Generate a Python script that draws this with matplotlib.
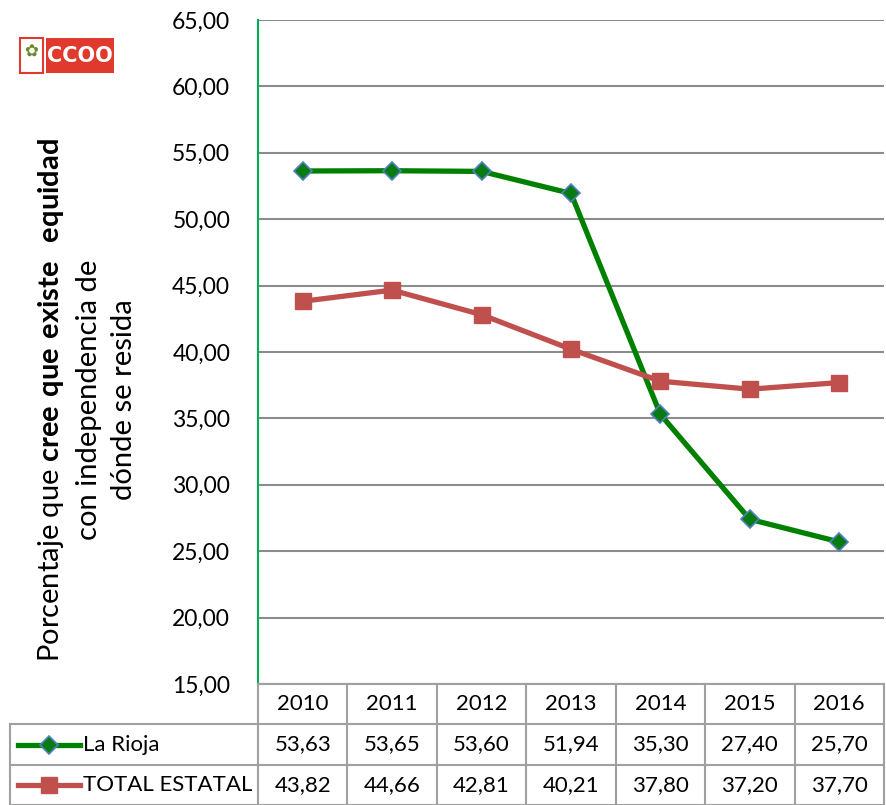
import matplotlib
matplotlib.use("Agg")
import matplotlib.pyplot as plt
from matplotlib.patches import Rectangle
from matplotlib.lines import Line2D

years = ["2010", "2011", "2012", "2013", "2014", "2015", "2016"]
rioja = [53.63, 53.65, 53.60, 51.94, 35.30, 27.40, 25.70]
estatal = [43.82, 44.66, 42.81, 40.21, 37.80, 37.20, 37.70]
series_names = ["La Rioja", "TOTAL ESTATAL"]

FONT = "Lato"
plt.rcParams['font.family'] = [FONT, 'DejaVu Sans']
plt.rcParams['mathtext.fontset'] = 'custom'
plt.rcParams['mathtext.rm'] = FONT
plt.rcParams['mathtext.bf'] = FONT + ':bold'

W, H = 886, 805
fig = plt.figure(figsize=(W / 100, H / 100), dpi=100)

L, R, T, B = 258, 884, 20, 684
ax = fig.add_axes([L / W, 1 - B / H, (R - L) / W, (B - T) / H])

green = "#008000"
red = "#c0504d"
x = list(range(len(years)))

ax.plot(x, rioja, color=green, lw=3.8, marker="D", ms=9,
        markerfacecolor="#0a7a12", markeredgecolor="#4f81bd", markeredgewidth=1.2, zorder=3)
ax.plot(x, estatal, color=red, lw=3.8, marker="s", ms=12,
        markerfacecolor=red, markeredgecolor=red, zorder=3)

ax.set_xlim(-0.5, len(years) - 0.5)
ax.set_ylim(15, 65)
ax.set_yticks(range(15, 66, 5))
ax.set_yticklabels([f"{v:.2f}".replace(".", ",") for v in range(15, 66, 5)], fontsize=16.5)
ax.tick_params(axis="y", length=0, pad=20)
ax.set_xticks([])
ax.yaxis.grid(True, color="#8c8c8c", lw=1.5)
ax.set_axisbelow(True)
for s in ["top", "right", "bottom"]:
    ax.spines[s].set_visible(False)
ax.spines["left"].set_color("#00b050")
ax.spines["left"].set_linewidth(1.5)

ax.set_ylabel("Porcentaje que $\\bf{cree\\ que\\ existe\\ \\ equidad}$\ncon independencia de\ndónde se resida",
              fontsize=21, linespacing=1.45)
ax.yaxis.set_label_coords(-0.193, 0.428)

# data table under the axis
colw = (R - L) / len(years)
def px2x(px):
    return -0.5 + (px - L) / colw

tab = fig.add_axes([L / W, 0, (R - L) / W, (H - B) / H])
tab.set_xlim(-0.5, len(years) - 0.5)
tab.set_ylim(3, 0)
tab.axis("off")
gc = "#a0a0a0"
lw = 1.5
x0 = px2x(10)
tab.plot([-0.5, len(years) - 0.5], [0, 0], color=gc, lw=lw, clip_on=False)
for yy in [1, 2, 3]:
    tab.plot([x0, len(years) - 0.5], [yy, yy], color=gc, lw=lw, clip_on=False)
tab.plot([x0, x0], [1, 3], color=gc, lw=lw, clip_on=False)
for i in range(len(years) + 1):
    tab.plot([i - 0.5, i - 0.5], [0, 3], color=gc, lw=lw, clip_on=False)
for i, yv in enumerate(years):
    tab.text(i, 0.5, yv, ha="center", va="center", fontsize=16)
for i, (a, b) in enumerate(zip(rioja, estatal)):
    tab.text(i, 1.5, f"{a:.2f}".replace(".", ","), ha="center", va="center", fontsize=16)
    tab.text(i, 2.5, f"{b:.2f}".replace(".", ","), ha="center", va="center", fontsize=16)

tab.add_line(Line2D([px2x(18), px2x(80)], [1.5, 1.5], color=green, lw=3.8, clip_on=False))
tab.add_line(Line2D([px2x(49)], [1.5], marker="D", ms=9, markerfacecolor="#0a7a12",
                    markeredgecolor="#4f81bd", markeredgewidth=1.2, clip_on=False))
tab.add_line(Line2D([px2x(18), px2x(80)], [2.5, 2.5], color=red, lw=3.8, clip_on=False))
tab.add_line(Line2D([px2x(49)], [2.5], marker="s", ms=12, color=red, clip_on=False))
tab.text(px2x(83), 1.5, series_names[0], ha="left", va="center", fontsize=16)
tab.text(px2x(83), 2.5, series_names[1], ha="left", va="center", fontsize=16)

# logo
fig.patches.append(Rectangle((20 / W, 1 - 73 / H), 23 / W, 35 / H, transform=fig.transFigure,
                             facecolor="white", edgecolor="#e03a2f", lw=1.5))
fig.patches.append(Rectangle((46 / W, 1 - 73 / H), 68 / W, 35 / H, transform=fig.transFigure,
                             facecolor="#e03a2f", edgecolor="none"))
fig.text(80 / W, 1 - 56 / H, "CCOO", color="white", fontsize=15, fontweight="bold",
         ha="center", va="center", family="DejaVu Sans")
fig.text(31 / W, 1 - 52 / H, "✿", color="#6a8a2a", fontsize=12, ha="center", va="center",
         family="DejaVu Sans")

fig.savefig("out.png", dpi=100)
